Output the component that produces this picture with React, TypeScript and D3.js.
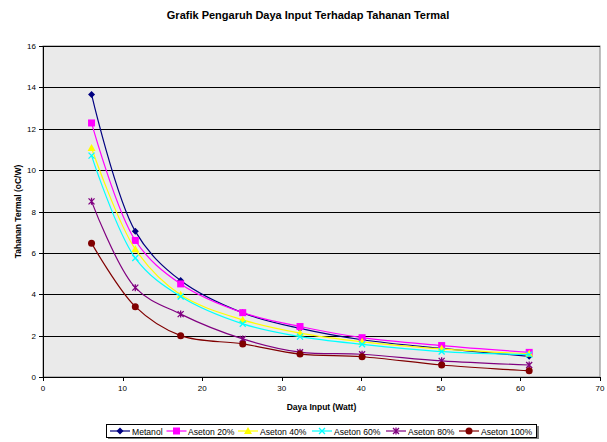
import React from "react";
import * as d3 from "d3";

const xValues = [6.1, 11.6, 17.3, 25.1, 32.3, 40.1, 50.1, 61.1];
const metanol = [13.66, 7.04, 4.66, 3.1, 2.35, 1.8, 1.38, 1.0];
const aseton20 = [12.28, 6.6, 4.5, 3.11, 2.44, 1.9, 1.52, 1.19];
const aseton40 = [11.07, 6.18, 3.97, 2.76, 2.12, 1.7, 1.36, 1.12];
const aseton60 = [10.7, 5.75, 3.89, 2.57, 1.95, 1.58, 1.23, 1.08];
const aseton80 = [8.49, 4.32, 3.04, 1.84, 1.2, 1.1, 0.78, 0.58];
const aseton100 = [6.47, 3.4, 2.0, 1.6, 1.11, 0.98, 0.58, 0.3];

const seriesNames = ["Metanol", "Aseton 20%", "Aseton 40%", "Aseton 60%", "Aseton 80%", "Aseton 100%"];
const seriesColors = ["#000080", "#FF00FF", "#FFFF00", "#00FFFF", "#800080", "#800000"];
const seriesMarkers = ["diamond", "square", "triangle", "x", "star", "circle"];
const seriesValues = [metanol, aseton20, aseton40, aseton60, aseton80, aseton100];

const xTicks = [0, 10, 20, 30, 40, 50, 60, 70];
const yTicks = [0, 2, 4, 6, 8, 10, 12, 14, 16];

const FONT = "'Liberation Sans', Arial, sans-serif";

function Marker({ type, x, y, color }: { type: string; x: number; y: number; color: string }) {
  switch (type) {
    case "diamond":
      return <path d={`M${x},${y - 3.5}L${x + 3.5},${y}L${x},${y + 3.5}L${x - 3.5},${y}Z`} fill={color} />;
    case "square":
      return <rect x={x - 3.5} y={y - 3.5} width={7} height={7} fill={color} />;
    case "triangle":
      return <path d={`M${x},${y - 4}L${x + 4},${y + 3}L${x - 4},${y + 3}Z`} fill={color} />;
    case "x":
      return (
        <path d={`M${x - 3},${y - 3}L${x + 3},${y + 3}M${x - 3},${y + 3}L${x + 3},${y - 3}`} stroke={color} strokeWidth={1.3} />
      );
    case "star":
      return (
        <path
          d={`M${x - 3},${y - 3}L${x + 3},${y + 3}M${x - 3},${y + 3}L${x + 3},${y - 3}M${x},${y - 3.5}L${x},${y + 3.5}`}
          stroke={color}
          strokeWidth={1.3}
        />
      );
    default:
      return <circle cx={x} cy={y} r={3.5} fill={color} />;
  }
}

export default function App() {
  const W = 607;
  const H = 442;
  const left = 43;
  const right = 600;
  const top = 46;
  const bottom = 377;
  const x = d3.scaleLinear().domain([0, 70]).range([left, right]);
  const y = d3.scaleLinear().domain([0, 16]).range([bottom, top]);

  const line = d3
    .line<number>()
    .x((_, i) => x(xValues[i]))
    .y((d) => y(d))
    .curve(d3.curveCatmullRom.alpha(0.5));

  const legendItems = [
    { mx: 120, tx: 132 },
    { mx: 176.5, tx: 188 },
    { mx: 248, tx: 260 },
    { mx: 322, tx: 334 },
    { mx: 396, tx: 408 },
    { mx: 469, tx: 481 },
  ];

  return (
    <svg width={W} height={H} style={{ position: "absolute", left: 0, top: 0 }} fontFamily={FONT}>
      <rect x={0} y={0} width={W} height={H} fill="#fff" />
      <text x={308} y={19} textAnchor="middle" fontSize={11} fontWeight="bold">
        Grafik Pengaruh Daya Input Terhadap Tahanan Termal
      </text>

      <rect x={left} y={top} width={right - left} height={bottom - top} fill="#EAEAEA" stroke="#808080" strokeWidth={1} />
      {yTicks.map((t) => (
        <g key={"y" + t}>
          {t > 0 && <line x1={left} x2={right} y1={Math.round(y(t)) + 0.5} y2={Math.round(y(t)) + 0.5} stroke="#000" strokeWidth={1} />}
          <line x1={left - 4} x2={left} y1={Math.round(y(t)) + 0.5} y2={Math.round(y(t)) + 0.5} stroke="#000" />
          <text x={left - 7} y={y(t) + 3} textAnchor="end" fontSize={8}>
            {t}
          </text>
        </g>
      ))}
      {xTicks.map((t) => (
        <g key={"x" + t}>
          <line x1={Math.round(x(t)) + 0.5} x2={Math.round(x(t)) + 0.5} y1={bottom} y2={bottom + 4} stroke="#000" />
          <text x={x(t)} y={bottom + 14} textAnchor="middle" fontSize={8}>
            {t}
          </text>
        </g>
      ))}
      <line x1={left + 0.5} x2={left + 0.5} y1={top} y2={bottom} stroke="#000" />
      <line x1={left} x2={right} y1={bottom + 0.5} y2={bottom + 0.5} stroke="#000" />

      {seriesValues.map((vals, si) => (
        <g key={"s" + si}>
          <path d={line(vals) || ""} fill="none" stroke={seriesColors[si]} strokeWidth={1.2} />
          {vals.map((v, i) => (
            <Marker key={i} type={seriesMarkers[si]} x={x(xValues[i])} y={y(v)} color={seriesColors[si]} />
          ))}
        </g>
      ))}

      <text x={(left + right) / 2} y={410} textAnchor="middle" fontSize={8.5} fontWeight="bold">
        Daya Input (Watt)
      </text>
      <text
        transform={`translate(21,${(top + bottom) / 2}) rotate(-90)`}
        textAnchor="middle"
        fontSize={8.5}
        fontWeight="bold"
      >
        Tahanan Termal (oC/W)
      </text>

      <rect x={108} y={426} width={431} height={13} fill="#808080" />
      <rect x={106.5} y={424.5} width={430} height={13} fill="#fff" stroke="#000" strokeWidth={1} />
      {legendItems.map((it, i) => (
        <g key={"l" + i}>
          <line x1={it.mx - 10} x2={it.mx + 10} y1={431} y2={431} stroke={seriesColors[i]} strokeWidth={1.2} />
          <Marker type={seriesMarkers[i]} x={it.mx} y={431} color={seriesColors[i]} />
          <text x={it.tx} y={434.5} fontSize={8.6}>
            {seriesNames[i]}
          </text>
        </g>
      ))}
    </svg>
  );
}
